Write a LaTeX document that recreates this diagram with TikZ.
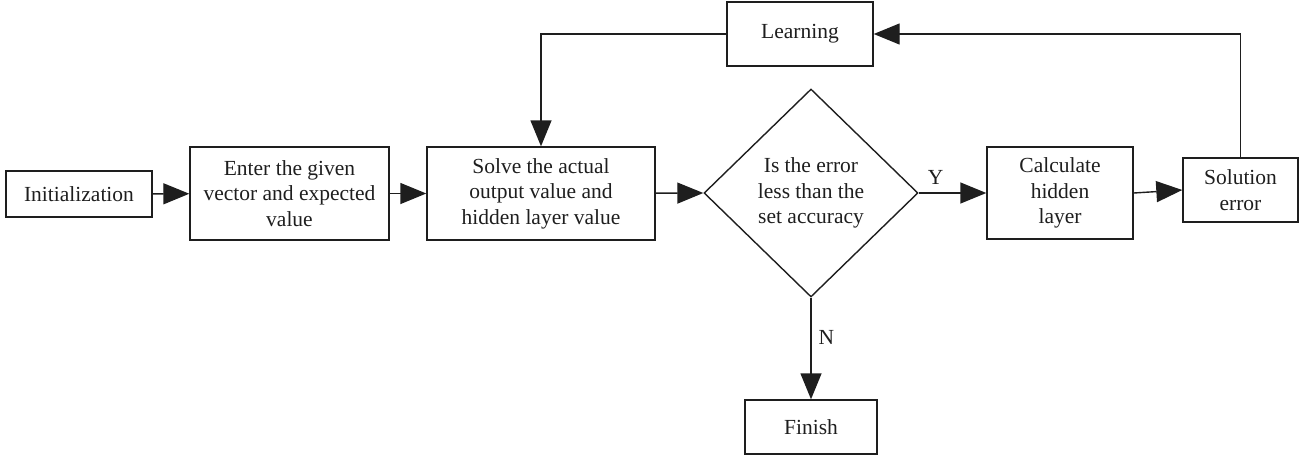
\documentclass[tikz,border=0pt]{standalone}
\usepackage{fontspec}
\setmainfont{Liberation Serif}
\usetikzlibrary{arrows.meta,shapes.geometric}
\definecolor{ink}{HTML}{1E1E1E}
\begin{document}
\begin{tikzpicture}[x=1pt,y=-1pt,
  every node/.style={text=ink,font=\fontsize{21.5}{25.5}\selectfont},
  box/.style={draw=ink,line width=1.4pt,inner sep=0pt,align=center},
  dia/.style={draw=ink,line width=1.4pt,shape=diamond,inner sep=0pt,align=center,minimum width=214pt,minimum height=208pt},
  conn/.style={draw=ink,line width=1.4pt,-{Triangle[length=26pt,width=21pt]}},
  line/.style={draw=ink,line width=1.4pt}]
\useasboundingbox (0,0) rectangle (1311,458);
\node[box,minimum width=146pt,minimum height=46pt] (init) at (79,194) {Initialization};
\node[box,minimum width=199pt,minimum height=93pt] (enter) at (289.5,193.5) {Enter the given\\vector and expected\\value};
\node[box,minimum width=228pt,minimum height=93pt] (solve) at (541,193.5) {Solve the actual\\output value and\\hidden layer value};
\node[dia] (dec) at (811,193) {Is the error\\less than the\\set accuracy};
\node[box,minimum width=146pt,minimum height=92pt] (calc) at (1060,193) {Calculate\\hidden\\layer};
\node[box,minimum width=115pt,minimum height=64pt] (sol) at (1240.5,190) {Solution\\error};
\node[box,minimum width=146pt,minimum height=64pt] (learn) at (800,34) {Learning};
\node[box,minimum width=132pt,minimum height=54pt] (fin) at (811,427) {Finish};
\draw[conn] (init) -- (enter);
\draw[conn] (enter) -- (solve);
\draw[conn] (solve) -- (dec.west);
\draw[conn] (dec.east) -- node[pos=0.25,above=8pt,inner sep=0pt] (ylab) {Y} (calc.west);
\draw[conn] (calc.east) -- (sol.west);
\draw[conn] (sol.north) |- (learn.east);
\draw[conn] (learn.west) -| (solve.north);
\draw[conn] (dec.south) -- node[pos=0.39,right=7pt,inner sep=0pt] (nlab) {N} (fin.north);
\end{tikzpicture}
\end{document}
